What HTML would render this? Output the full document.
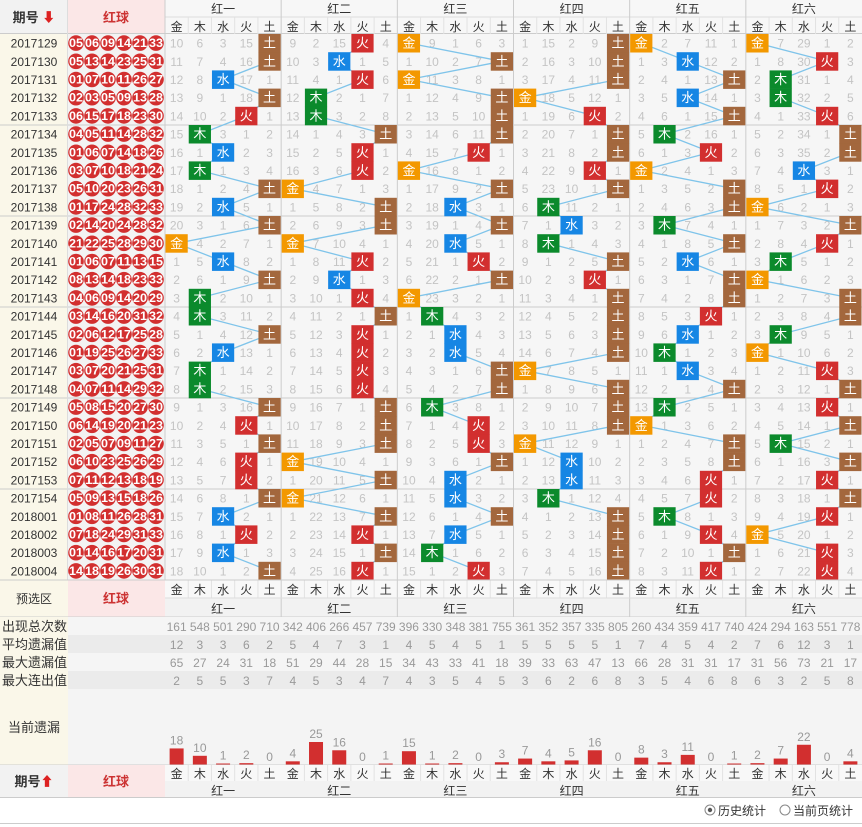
<!DOCTYPE html>
<html><head><meta charset="utf-8"><style>
body{margin:0;background:#fff;}
svg{display:block;font-family:"Liberation Sans","Noto Sans CJK SC",sans-serif;}
</style></head><body>
<svg id="s" width="862" height="827" xmlns="http://www.w3.org/2000/svg"></svg>
<script>
const S=document.getElementById('s');let h='';
const E=['金','木','水','火','土'];
const C=['#f39800','#0b8a2c','#1686e4','#d22f2f','#a3673d'];
const G=['红一','红二','红三','红四','红五','红六'];
const X0=165,CW=697/30,Y0=34,RH=18.2;
const hits=[
[4,4,2,4,3,1,2,1,4,2,4,0,2,4,1,1,4,2,1,1,4,3,4,3,3,4,2,3,2,4],
[3,2,3,1,1,4,3,3,0,4,4,0,3,2,3,4,3,3,3,3,4,4,4,0,4,0,4,3,4,3],
[0,4,0,4,4,4,3,0,4,2,4,2,3,4,0,1,2,2,4,4,1,3,3,4,2,2,4,2,1,3],
[4,4,4,0,3,4,4,3,4,1,2,1,4,3,4,4,4,4,0,4,4,4,0,2,2,1,4,4,4,4],
[0,2,4,2,4,1,3,0,4,4,1,4,2,4,4,3,2,1,2,4,1,0,4,4,3,3,1,3,4,3],
[0,3,1,1,3,4,4,2,3,0,4,3,1,0,4,4,1,0,3,4,3,4,1,4,3,4,3,0,3,3]];
const init=[[10,6,3,15,0],[9,2,15,0,4],[0,9,1,6,3],[1,15,2,9,0],[0,2,7,11,1],[0,7,29,1,2]];
const balls=`05 06 09 14 21 33|05 13 14 23 25 31|01 07 10 11 26 27|02 03 05 09 13 28|06 15 17 18 23 30|04 05 11 14 28 32|01 06 07 14 18 26|03 07 10 18 21 24|05 10 20 23 26 31|01 17 24 28 32 33|02 14 20 24 28 32|21 22 25 28 29 30|01 06 07 11 13 15|08 13 14 18 23 33|04 06 09 14 20 29|03 14 16 20 31 32|02 06 12 17 25 28|01 19 25 26 27 33|03 07 20 21 25 31|04 07 11 14 29 32|05 08 15 20 27 30|06 14 19 20 21 23|02 05 07 09 11 27|06 10 23 25 26 29|07 11 12 13 18 19|05 09 13 15 18 26|01 08 11 26 28 31|07 18 24 29 31 33|01 14 16 17 20 31|14 18 19 26 30 31`.split('|');
function per(i){return i<26?'2017'+(129+i):'201800'+(i-25);}
function R(x,y,w,hh,f){h+=`<rect x="${x}" y="${y}" width="${w}" height="${hh}" fill="${f}"/>`;}
function T(x,y,t,f,s,w){h+=`<text x="${x}" y="${y}" fill="${f}" font-size="${s||12}" text-anchor="middle"${w?' font-weight="bold"':''}>${t}</text>`;}
function L(x1,y1,x2,y2,c,w){h+=`<line x1="${x1}" y1="${y1}" x2="${x2}" y2="${y2}" stroke="${c}" stroke-width="${w||1}"/>`;}
R(0,0,68,34,'#f2f2f2');R(68,0,97,34,'#fbe7e7');R(165,0,697,34,'#f7f7f7');
T(34,22,'期号 <tspan fill="#d22">⬇</tspan>','#333',13,1);T(116,22,'红球','#c33',13,1);
for(let g=0;g<6;g++){T(X0+(g*5+2.5)*CW,13,G[g],'#333',12);}
for(let c=0;c<30;c++){T(X0+(c+.5)*CW,31,E[c%5],'#333',12);}
L(165,17,862,17,'#ddd');L(0,33.5,862,33.5,'#ccc');
R(0,34,68,546,'#faf7e9');R(68,34,97,546,'#f3f3f3');R(165,34,697,546,'#f6f6f6');
for(let g=1;g<6;g++)L(X0+g*5*CW,34,X0+g*5*CW,580,'#ccc');
for(let c=0;c<30;c++)if(c%5)L(X0+c*CW,17,X0+c*CW,34,'#e2e2e2');
for(let g=1;g<6;g++)L(X0+g*5*CW,0,X0+g*5*CW,34,'#ccc');
for(let k=1;k<6;k++){L(0,Y0+k*5*RH,862,Y0+k*5*RH,'#ccc');}
L(67.5,0,67.5,797,'#ddd');L(165,0,165,797,'#ccc');
for(let r=0;r<30;r++){const yc=Y0+(r+.5)*RH;T(34,yc+4.5,per(r),'#333',12);
 balls[r].split(' ').forEach((b,i)=>{const cx=76+i*16;h+=`<circle cx="${cx}" cy="${yc}" r="7.8" fill="#d22f2f"/>`;h+=`<text x="${cx}" y="${yc+4}" fill="#fff" font-size="12" font-weight="bold" text-anchor="middle" textLength="14" lengthAdjust="spacingAndGlyphs">${b}</text>`;});}
let cur=[];let lines='',blocks='',nums='';
for(let g=0;g<6;g++){let v=init[g].slice();let pts=[];
 for(let r=0;r<30;r++){const hit=hits[g][r];
  if(r>0){for(let e=0;e<5;e++)v[e]=(e==hit)?0:v[e]+1;}
  for(let e=0;e<5;e++){const x=X0+(g*5+e)*CW,y=Y0+r*RH;
   if(e==hit){blocks+=`<rect x="${x+.5}" y="${y}" width="${CW-1}" height="${RH+.3}" fill="${C[e]}"/><text x="${x+CW/2}" y="${y+RH/2+4.5}" fill="#fff" font-size="13" text-anchor="middle">${E[e]}</text>`;pts.push([x+CW/2,y+RH/2]);}
   else nums+=`<text x="${x+CW/2}" y="${y+RH/2+4.5}" fill="#c4c4c4" font-size="12" text-anchor="middle">${v[e]}</text>`;}
 }
 cur.push(v.slice());
 lines+=`<polyline points="${pts.map(p=>p.join(',')).join(' ')}" fill="none" stroke="#7fc4ea" stroke-width="1.3"/>`;
}
h+=nums+lines+blocks;
const F=580;
R(0,F,68,37,'#faf7e9');R(68,F,97,37,'#fbe7e7');R(165,F,697,18,'#f8f8f8');R(165,F+18,697,19,'#f2f2f2');
T(34,F+23,'预选区','#333',12);T(116,F+23,'红球','#c33',13,1);
for(let c=0;c<30;c++){T(X0+(c+.5)*CW,F+14,E[c%5],'#333',12);if(c%5)L(X0+c*CW,F,X0+c*CW,F+18,'#e2e2e2');}
for(let g=0;g<6;g++)T(X0+(g*5+2.5)*CW,F+33,G[g],'#333',12);
for(let g=1;g<6;g++)L(X0+g*5*CW,F,X0+g*5*CW,797,'#ccc');
L(0,F,862,F,'#ccc');L(165,F+18,862,F+18,'#ddd');L(0,617,862,617,'#ccc');
const st=[['出现总次数','161 548 501 290 710 342 406 266 457 739 396 330 348 381 755 361 352 357 335 805 260 434 359 417 740 424 294 163 551 778'],
['平均遗漏值','12 3 3 6 2 5 4 7 3 1 4 5 4 5 1 5 5 5 5 1 7 4 5 4 2 7 6 12 3 1'],
['最大遗漏值','65 27 24 31 18 51 29 44 28 15 34 43 33 41 18 39 33 63 47 13 66 28 31 31 17 31 56 73 21 17'],
['最大连出值','2 5 5 3 7 4 5 3 4 7 4 3 5 4 5 3 6 2 6 8 3 5 4 6 8 6 3 2 5 8']];
st.forEach((s,i)=>{const y=617+i*18;R(0,y,68,18,'#faf7e9');R(68,y,794,18,i%2?'#ebebeb':'#f5f5f5');
 h+=`<text x="2" y="${y+14}" fill="#333" font-size="13">${s[0]}</text>`;
 s[1].split(' ').forEach((n,c)=>T(X0+(c+.5)*CW,y+14,n,'#999',12));});
R(0,689,68,76,'#faf7e9');R(68,689,794,76,'#f4f4f4');T(34,732,'当前遗漏','#333',13);
for(let g=0;g<6;g++)for(let e=0;e<5;e++){const v=cur[g][e],cx=X0+(g*5+e+.5)*CW,bh=v?Math.max(1.5,v*0.92):0;
 if(bh)R(cx-7,765-bh,14,bh,'#d22f2f');T(cx,765-bh-4,v,'#999',12);}
L(0,765,862,765,'#ccc');
R(0,765,68,32,'#f2f2f2');R(68,765,97,32,'#fbe7e7');R(165,765,697,16,'#f8f8f8');R(165,781,697,16,'#f2f2f2');
T(34,786,'期号<tspan fill="#d22">⬆</tspan>','#333',13,1);T(116,786,'红球','#c33',13,1);
for(let c=0;c<30;c++){T(X0+(c+.5)*CW,778,E[c%5],'#333',12);if(c%5)L(X0+c*CW,765,X0+c*CW,781,'#e2e2e2');}
for(let g=0;g<6;g++)T(X0+(g*5+2.5)*CW,795,G[g],'#333',12);
L(0,797.5,862,797.5,'#ccc');L(0,823.5,862,823.5,'#ccc');
h+=`<circle cx="710" cy="810" r="5" fill="#fff" stroke="#888"/><circle cx="710" cy="810" r="2.2" fill="#555"/><text x="718" y="815" font-size="12" fill="#333">历史统计</text>`;
h+=`<circle cx="785" cy="810" r="5" fill="#fff" stroke="#888"/><text x="793" y="815" font-size="12" fill="#333">当前页统计</text>`;
S.innerHTML=h;
</script>
</body></html>
